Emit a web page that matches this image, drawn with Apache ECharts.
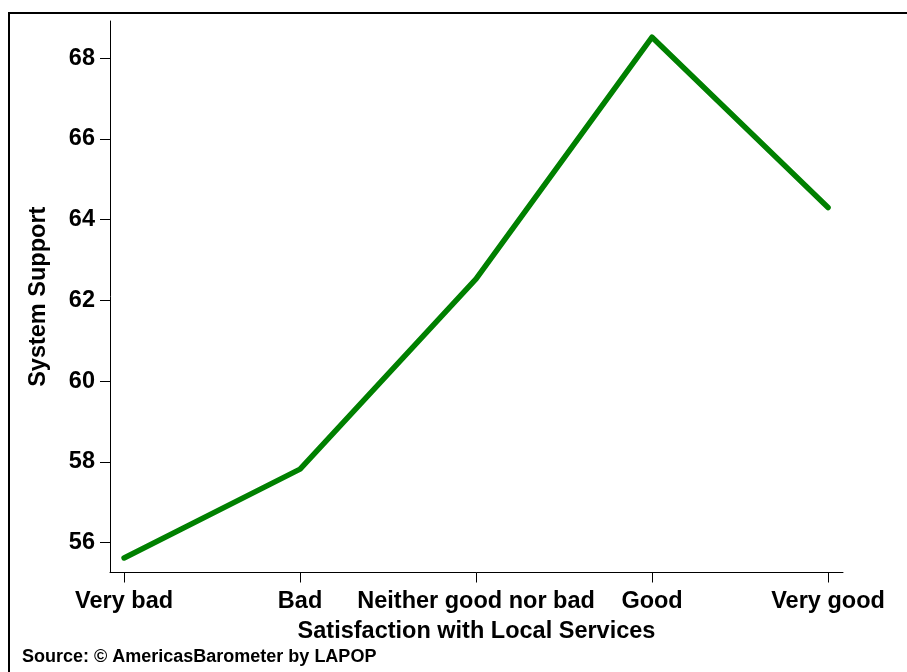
<!DOCTYPE html>
<html>
<head>
<meta charset="utf-8">
<script src="https://cdn.jsdelivr.net/npm/echarts@6/dist/echarts.min.js"></script>
<style>html,body{margin:0;padding:0;background:#fff;}#chart{width:907px;height:672px;}</style>
</head>
<body>
<div id="chart"></div>
<script>
const categories = ['Very bad', 'Bad', 'Neither good nor bad', 'Good', 'Very good'];
const systemSupport = [55.62, 57.82, 62.53, 68.52, 64.30];
const yTicks = [56, 58, 60, 62, 64, 66, 68];
const xTitle = 'Satisfaction with Local Services';
const yTitle = 'System Support';
const sourceText = 'Source: \u00A9 AmericasBarometer by LAPOP';

const FONT = '"Liberation Sans", Arial, sans-serif';
const chart = echarts.init(document.getElementById('chart'), null, {renderer: 'canvas'});
const catIdx = categories.map((c, i) => i);

chart.setOption({
  animation: false,
  backgroundColor: '#ffffff',
  grid: {left: 110, right: 64, top: 21, bottom: 99.5, containLabel: false},
  xAxis: {
    type: 'value',
    min: -0.08,
    max: 4.085,
    name: xTitle,
    nameLocation: 'middle',
    nameGap: 47,
    nameTextStyle: {fontFamily: FONT, fontWeight: 'bold', fontSize: 23.5, color: '#000'},
    axisLine: {onZero: false, lineStyle: {color: '#000', width: 1}},
    axisTick: {show: true, length: 10, customValues: catIdx, lineStyle: {color: '#000', width: 1}},
    axisLabel: {
      customValues: catIdx,
      margin: 17,
      fontFamily: FONT, fontWeight: 'bold', fontSize: 23.5, color: '#000',
      formatter: v => categories[Math.round(v)]
    },
    splitLine: {show: false}
  },
  yAxis: {
    type: 'value',
    min: 55.26,
    max: 68.92,
    name: yTitle,
    nameLocation: 'middle',
    nameRotate: 90,
    nameGap: 59,
    nameTextStyle: {fontFamily: FONT, fontWeight: 'bold', fontSize: 23.5, color: '#000'},
    axisLine: {show: true, onZero: false, lineStyle: {color: '#000', width: 1}},
    axisTick: {show: true, length: 10, customValues: yTicks, lineStyle: {color: '#000', width: 1}},
    axisLabel: {
      customValues: yTicks,
      margin: 15,
      fontFamily: FONT, fontWeight: 'bold', fontSize: 23.5, color: '#000'
    },
    splitLine: {show: false}
  },
  series: [{
    type: 'line',
    data: systemSupport.map((v, i) => [i, v]),
    showSymbol: false,
    symbol: 'none',
    lineStyle: {color: '#008000', width: 5.5, join: 'round', cap: 'round'},
    itemStyle: {color: '#008000'}
  }],
  graphic: [
    {
      type: 'rect',
      shape: {x: 9, y: 13, width: 1000, height: 1000},
      style: {fill: 'none', stroke: '#000', lineWidth: 2},
      silent: true
    },
    {
      type: 'text',
      left: 22,
      top: 648,
      style: {text: sourceText, fontFamily: FONT, fontWeight: 'bold', fontSize: 18, fill: '#000'}
    }
  ]
});
</script>
</body>
</html>
